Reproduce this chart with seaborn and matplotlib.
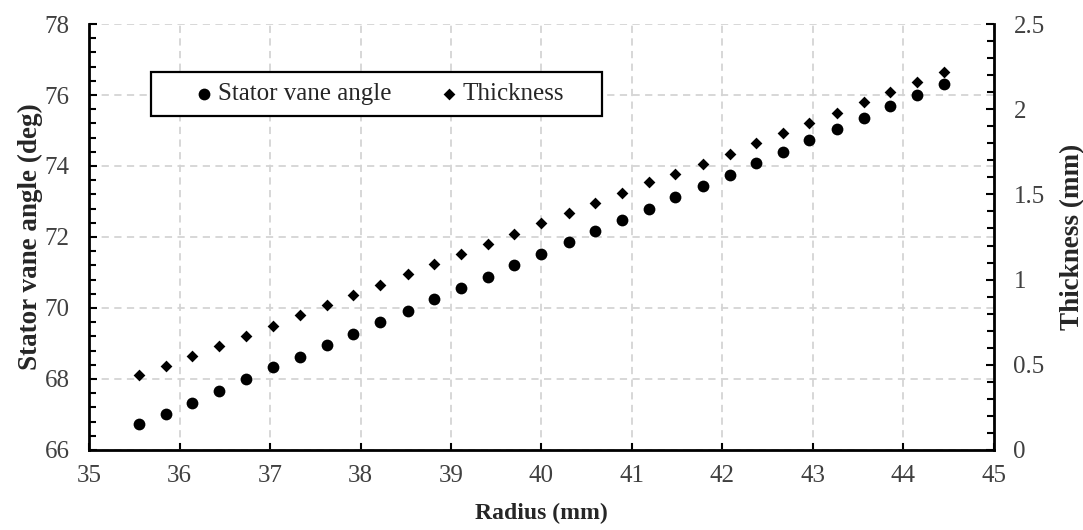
import matplotlib
matplotlib.use("Agg")
import matplotlib.pyplot as plt
from matplotlib.patches import Rectangle
from matplotlib.ticker import MultipleLocator
import seaborn as sns
import pandas as pd

# Radial stations (mm)
radius = [35.55, 35.85, 36.14, 36.44, 36.74, 37.03, 37.33, 37.63, 37.92, 38.22,
          38.52, 38.81, 39.11, 39.41, 39.70, 40.00, 40.30, 40.59, 40.89, 41.19,
          41.48, 41.78, 42.08, 42.37, 42.67, 42.96, 43.26, 43.56, 43.85, 44.15,
          44.45]
# Stator vane angle (deg)
vane_angle = [66.72, 67.02, 67.33, 67.67, 68.00, 68.33, 68.63, 68.95, 69.28, 69.60,
              69.92, 70.24, 70.55, 70.88, 71.20, 71.52, 71.85, 72.16, 72.48, 72.80,
              73.12, 73.44, 73.76, 74.08, 74.40, 74.72, 75.04, 75.36, 75.68, 76.00,
              76.30]
# Blade thickness (mm)
thickness = [0.44, 0.49, 0.55, 0.61, 0.67, 0.73, 0.79, 0.85, 0.91, 0.97,
             1.03, 1.09, 1.15, 1.21, 1.27, 1.33, 1.39, 1.45, 1.51, 1.57,
             1.62, 1.68, 1.74, 1.80, 1.86, 1.92, 1.98, 2.04, 2.10, 2.16,
             2.22]

x_ticks = [35, 36, 37, 38, 39, 40, 41, 42, 43, 44, 45]
left_ticks = [66, 68, 70, 72, 74, 76, 78]
right_ticks = [0, 0.5, 1, 1.5, 2, 2.5]
right_tick_labels = ["0", "0.5", "1", "1.5", "2", "2.5"]

df = pd.DataFrame({"radius": radius, "angle": vane_angle, "thickness": thickness})

sns.set_theme(style="white")
plt.rcParams["font.family"] = ["Liberation Serif", "DejaVu Serif"]

FS = 18
XLABEL_FS = 17
YLABEL_FS = 19.5
TICK_COLOR = "#404040"

fig = plt.figure(figsize=(10.83, 5.30), dpi=100)
ax = fig.add_axes([0.0822, 0.151, 0.8356, 0.8037])
ax2 = ax.twinx()

sns.scatterplot(data=df, x="radius", y="angle", ax=ax, marker="o", s=72,
                color="black", edgecolor="black", linewidth=0,
                label="Stator vane angle", legend=False)
sns.scatterplot(data=df, x="radius", y="thickness", ax=ax2, marker="D", s=36,
                color="black", edgecolor="black", linewidth=0,
                label="Thickness", legend=False)

ax.set_xlim(35, 45)
ax.set_ylim(66, 78)
ax2.set_ylim(0, 2.5)

ax.set_xticks(x_ticks)
ax.set_xticklabels([str(t) for t in x_ticks])
ax.set_yticks(left_ticks)
ax.set_yticklabels([str(t) for t in left_ticks])
ax.yaxis.set_minor_locator(MultipleLocator(0.4))
ax2.set_yticks(right_ticks)
ax2.set_yticklabels(right_tick_labels)
ax2.yaxis.set_minor_locator(MultipleLocator(0.1))

# dashed grid at the major ticks of the primary axes
ax.grid(True, which="major", axis="both", color="#d4d4d4", linestyle=(0, (4, 3)),
        linewidth=1.3)
ax.set_axisbelow(True)

for a in (ax, ax2):
    for side in ("left", "right", "bottom"):
        a.spines[side].set_color("black")
        a.spines[side].set_linewidth(2.0)
    a.spines["top"].set_visible(False)

ax.spines["right"].set_visible(False)
ax2.spines["left"].set_visible(False)
ax2.spines["bottom"].set_visible(False)

ax.tick_params(axis="x", which="major", direction="in", length=5, width=1.5,
               colors="black", labelcolor=TICK_COLOR, labelsize=FS, pad=11,
               top=False, bottom=True)
ax.tick_params(axis="y", which="major", direction="in", length=6, width=1.5,
               colors="black", labelcolor=TICK_COLOR, labelsize=FS, pad=14,
               left=True, right=False)
ax.tick_params(axis="y", which="minor", direction="in", length=5, width=1.5,
               colors="black", left=True, right=False)
ax2.tick_params(axis="y", which="major", direction="in", length=6, width=1.5,
                colors="black", labelcolor=TICK_COLOR, labelsize=FS, pad=14)
ax2.tick_params(axis="y", which="minor", direction="in", length=5, width=1.5,
                colors="black")

ax.set_xlabel("Radius (mm)", fontsize=XLABEL_FS, fontweight="bold", labelpad=11)
ax.set_ylabel("Stator vane angle (deg)", fontsize=YLABEL_FS, fontweight="bold",
              labelpad=1)
ax2.set_ylabel("Thickness (mm)", fontsize=YLABEL_FS, fontweight="bold", labelpad=11,
               rotation=90)

# legend box
box = Rectangle((0.0685, 0.784), 0.498, 0.104, transform=ax2.transAxes,
                facecolor="white", edgecolor="black", linewidth=1.6, zorder=4,
                clip_on=False)
ax2.add_patch(box)
h1, l1 = ax.get_legend_handles_labels()
h2, l2 = ax2.get_legend_handles_labels()
leg = ax2.legend(h1 + h2, l1 + l2, loc="center",
                 bbox_to_anchor=(0.0685 + 0.249 + 0.003, 0.836),
                 bbox_transform=ax2.transAxes, ncol=2, frameon=False,
                 fontsize=FS, handlelength=0.8, handletextpad=0.16,
                 columnspacing=1.9, borderpad=0.2)
leg.set_zorder(5)

fig.savefig("out.png", dpi=100)
